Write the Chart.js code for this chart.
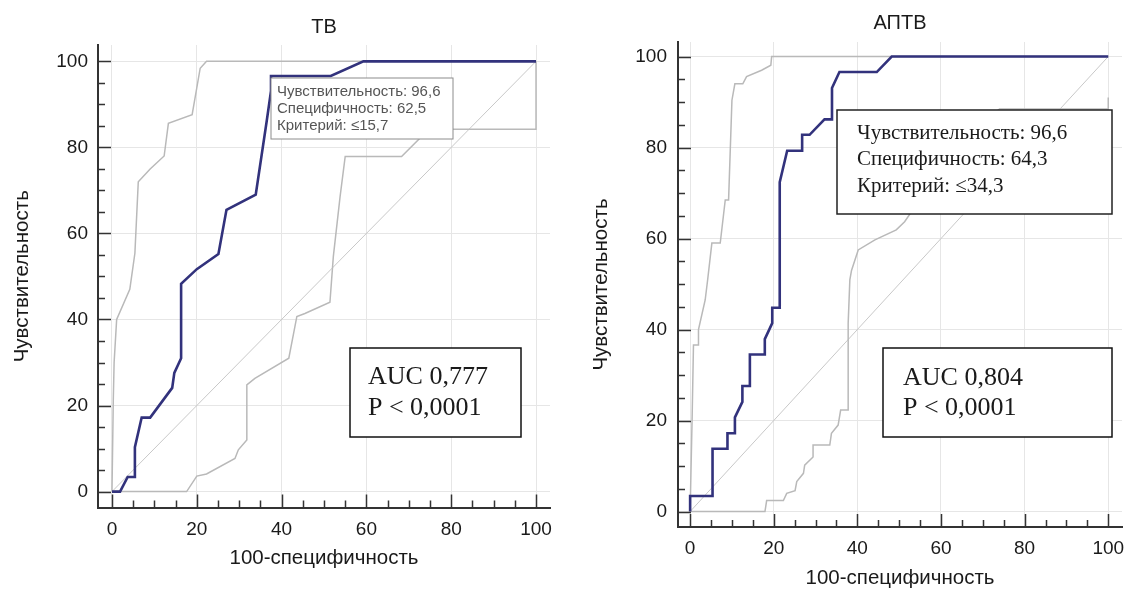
<!DOCTYPE html>
<html>
<head>
<meta charset="utf-8">
<script src="https://cdn.jsdelivr.net/npm/chart.js@4.4.1/dist/chart.umd.min.js"></script>
<style>
  body { margin: 0; background: #fff; }
  #wrap { position: relative; width: 1135px; height: 591px; background: #fff; }
  canvas { position: absolute; top: 0; }
  #tv { left: 0; }
  #aptv { left: 567px; }
</style>
</head>
<body>
<div id="wrap">
  <canvas id="tv" width="567" height="591"></canvas>
  <canvas id="aptv" width="568" height="591"></canvas>
</div>
<script>
// axis ticks shared by both panels
var tickValues = [0, 20, 40, 60, 80, 100];
var diagX = [0, 100];
var diagY = [0, 100];

// ТВ: ROC curve and its confidence bounds
var tvRocX = [0, 1.9, 3.7, 5.4, 5.4, 7.0, 9.0, 14.2, 14.7, 16.3, 16.3, 20.0, 25.1, 27.0, 33.9, 36.5, 37.5, 37.5, 51.6, 59.3, 100];
var tvRocY = [0, 0, 3.4, 3.4, 10.3, 17.2, 17.2, 24.1, 27.6, 31.0, 48.3, 51.7, 55.2, 65.5, 69.0, 86.2, 93.1, 96.6, 96.6, 100, 100];
var tvUpperX = [0, 0.3, 0.5, 1.1, 4.2, 5.4, 6.2, 9.0, 12.3, 13.3, 18.9, 20.8, 22.3, 100];
var tvUpperY = [0, 21, 30, 40, 47, 55.4, 72, 75, 78, 85.6, 87.6, 98.4, 100, 100];
var tvLowerX = [0, 17.6, 20.0, 22.3, 29.0, 29.8, 31.8, 31.8, 33.7, 41.7, 43.6, 45.5, 51.4, 52.2, 53.8, 55.0, 68.3, 72.6, 74.0, 100, 100];
var tvLowerY = [0, 0, 3.6, 4.1, 7.7, 9.7, 12.0, 24.8, 26.3, 31.0, 40.7, 41.4, 44.0, 54.6, 68.6, 77.9, 77.9, 82.1, 84.2, 84.2, 100];

// АПТВ: ROC curve and its confidence bounds
var aptvRocX = [0, 0, 5.36, 5.36, 8.93, 8.93, 10.71, 10.71, 12.5, 12.5, 14.29, 14.29, 17.86, 17.86, 19.64, 19.64, 21.43, 21.43, 23.21, 26.79, 26.79, 28.57, 32.14, 33.93, 33.93, 35.71, 44.64, 48.21, 100];
var aptvRocY = [0, 3.4, 3.4, 13.8, 13.8, 17.2, 17.2, 20.7, 24.1, 27.6, 27.6, 34.5, 34.5, 37.9, 41.4, 44.8, 44.8, 72.4, 79.3, 79.3, 82.8, 82.8, 86.2, 86.2, 93.1, 96.6, 96.6, 100, 100];
var aptvUpperX = [0, 0.5, 0.8, 2.0, 2.0, 3.6, 4.2, 5.2, 7.2, 8.4, 9.2, 10.0, 10.7, 12.6, 13.5, 17.1, 19.3, 19.5, 100];
var aptvUpperY = [0, 21.6, 36.6, 36.6, 40.0, 46.5, 51.0, 59.0, 59.0, 68.5, 68.5, 90.4, 94.0, 94.0, 95.6, 97.0, 98.1, 100, 100];
var aptvLowerX = [0, 17.9, 18.3, 22.3, 23.1, 25.1, 25.5, 27.1, 27.4, 29.4, 29.4, 33.4, 33.8, 35.4, 36.0, 37.8, 37.8, 38.2, 38.6, 40.2, 44.2, 49.3, 51.3, 56, 62, 68, 74, 100, 100];
var aptvLowerY = [0, 0, 2.4, 2.4, 4.0, 4.6, 6.6, 8.4, 10.2, 12.0, 14.6, 14.6, 17.2, 19.0, 22.3, 22.3, 41.4, 50.9, 53.0, 57.5, 59.7, 61.9, 63.7, 70, 78, 84, 88.5, 88.5, 91];

var sans = '"Liberation Sans", Arial, sans-serif';
var serif = '"Liberation Serif", "Times New Roman", serif';

function pts(xs, ys) {
  return xs.map(function(x, i) { return { x: x, y: ys[i] }; });
}

function line(data, color, width) {
  return {
    data: data,
    showLine: true,
    borderColor: color,
    borderWidth: width,
    pointRadius: 0,
    tension: 0,
    fill: false
  };
}

// short tick marks on the inner side of both axes, every 5 units
var innerTicks = {
  id: 'innerTicks',
  afterDraw: function(chart) {
    var ctx = chart.ctx, a = chart.chartArea;
    var xs = chart.scales.x, ys = chart.scales.y;
    ctx.save();
    ctx.strokeStyle = '#333';
    ctx.lineWidth = 1.5;
    for (var v = 0; v <= 100; v += 5) {
      var len = v % 20 === 0 ? 13 : 7;
      var px = Math.round(xs.getPixelForValue(v)) + 0.5;
      var py = Math.round(ys.getPixelForValue(v)) + 0.5;
      ctx.beginPath();
      ctx.moveTo(px, a.bottom);
      ctx.lineTo(px, a.bottom - len);
      ctx.moveTo(a.left, py);
      ctx.lineTo(a.left + len, py);
      ctx.stroke();
    }
    ctx.restore();
  }
};

// white boxes with text, drawn on top of the curves
function notesPlugin(boxes) {
  return {
    id: 'notes',
    afterDatasetsDraw: function(chart) {
      var ctx = chart.ctx;
      boxes.forEach(function(b) {
        ctx.save();
        ctx.fillStyle = '#fff';
        ctx.fillRect(b.x, b.y, b.w, b.h);
        ctx.strokeStyle = b.border;
        ctx.lineWidth = b.borderWidth;
        ctx.strokeRect(b.x, b.y, b.w, b.h);
        ctx.fillStyle = b.color;
        ctx.font = b.font;
        ctx.textBaseline = 'middle';
        b.lines.forEach(function(t, i) {
          ctx.fillText(t, b.tx, b.ty + i * b.step);
        });
        ctx.restore();
      });
    }
  };
}

function makeChart(id, c) {
  var canvas = document.getElementById(id);
  return new Chart(canvas, {
    type: 'scatter',
    data: {
      datasets: [
        line(pts(c.rocX, c.rocY), '#32327c', 2.6),
        line(pts(c.upX, c.upY), '#b9b9b9', 1.5),
        line(pts(c.loX, c.loY), '#b9b9b9', 1.5),
        line(pts(diagX, diagY), '#c8c8c8', 1)
      ]
    },
    options: {
      responsive: false,
      animation: false,
      devicePixelRatio: 1,
      layout: { padding: { left: 0, top: 0, bottom: 0, right: canvas.width - c.area.right } },
      plugins: {
        legend: { display: false },
        tooltip: { enabled: false },
        title: {
          display: true,
          text: c.title,
          fullSize: false,
          color: '#1a1a1a',
          font: { family: sans, size: 20, weight: 'normal' },
          padding: { top: c.titlePad[0], bottom: c.titlePad[1] }
        }
      },
      scales: {
        x: {
          type: 'linear',
          min: c.xRange[0],
          max: c.xRange[1],
          afterBuildTicks: function(s) { s.ticks = tickValues.map(function(v) { return { value: v }; }); },
          afterFit: function(s) { s.height = canvas.height - c.area.bottom; },
          grid: { color: '#e6e6e6', drawTicks: false },
          border: { display: true, color: '#333', width: 2 },
          ticks: { padding: c.xTickPad, maxRotation: 0, autoSkip: false, color: '#1a1a1a', font: { family: sans, size: 19 } },
          title: {
            display: true,
            text: '100-специфичность',
            color: '#1a1a1a',
            font: { family: sans, size: 20.5 },
            padding: { top: 0, bottom: c.xTitlePad }
          }
        },
        y: {
          type: 'linear',
          min: c.yRange[0],
          max: c.yRange[1],
          afterBuildTicks: function(s) { s.ticks = tickValues.map(function(v) { return { value: v }; }); },
          afterFit: function(s) { s.width = c.area.left; },
          grid: { color: '#e6e6e6', drawTicks: false },
          border: { display: true, color: '#333', width: 2 },
          ticks: { padding: c.yTickPad, autoSkip: false, color: '#1a1a1a', font: { family: sans, size: 19 } },
          title: {
            display: true,
            text: 'Чувствительность',
            color: '#1a1a1a',
            font: { family: sans, size: 20.5 },
            padding: { top: c.yTitlePad, bottom: 0 }
          }
        }
      }
    },
    plugins: [notesPlugin(c.boxes), innerTicks]
  });
}

makeChart('tv', {
  title: 'ТВ',
  rocX: tvRocX, rocY: tvRocY,
  upX: tvUpperX, upY: tvUpperY,
  loX: tvLowerX, loY: tvLowerY,
  area: { left: 98, right: 550, bottom: 507.5 },
  xRange: [-3.3, 103.3],
  yRange: [-3.7, 103.8],
  titlePad: [15.5, 5.5],
  xTickPad: 10.5,
  xTitlePad: 20.5,
  yTitlePad: 10,
  yTickPad: 10,
  boxes: [
    { x: 271, y: 78, w: 182, h: 61, border: '#8c8c8c', borderWidth: 1, color: '#555',
      font: '15px ' + sans, tx: 277, ty: 92, step: 16.7,
      lines: ['Чувствительность: 96,6', 'Специфичность: 62,5', 'Критерий: ≤15,7'] },
    { x: 350, y: 348, w: 171, h: 89, border: '#111', borderWidth: 1.5, color: '#1a1a1a',
      font: '26px ' + serif, tx: 368, ty: 377, step: 31.5,
      lines: ['AUC 0,777', 'P < 0,0001'] }
  ]
});

makeChart('aptv', {
  title: 'АПТВ',
  rocX: aptvRocX, rocY: aptvRocY,
  upX: aptvUpperX, upY: aptvUpperY,
  loX: aptvLowerX, loY: aptvLowerY,
  area: { left: 111, right: 556, bottom: 527 },
  xRange: [-2.9, 103.3],
  yRange: [-3.4, 103.2],
  titlePad: [11.3, 6.7],
  xTickPad: 10.5,
  xTitlePad: 0,
  yTitlePad: 22,
  yTickPad: 11,
  boxes: [
    { x: 270, y: 110, w: 275, h: 104, border: '#222', borderWidth: 1.5, color: '#1a1a1a',
      font: '21px ' + serif, tx: 290, ty: 133, step: 26.5,
      lines: ['Чувствительность: 96,6', 'Специфичность: 64,3', 'Критерий: ≤34,3'] },
    { x: 316, y: 348, w: 229, h: 89, border: '#111', borderWidth: 1.5, color: '#1a1a1a',
      font: '26px ' + serif, tx: 336, ty: 378, step: 30,
      lines: ['AUC 0,804', 'P < 0,0001'] }
  ]
});
</script>
</body>
</html>
